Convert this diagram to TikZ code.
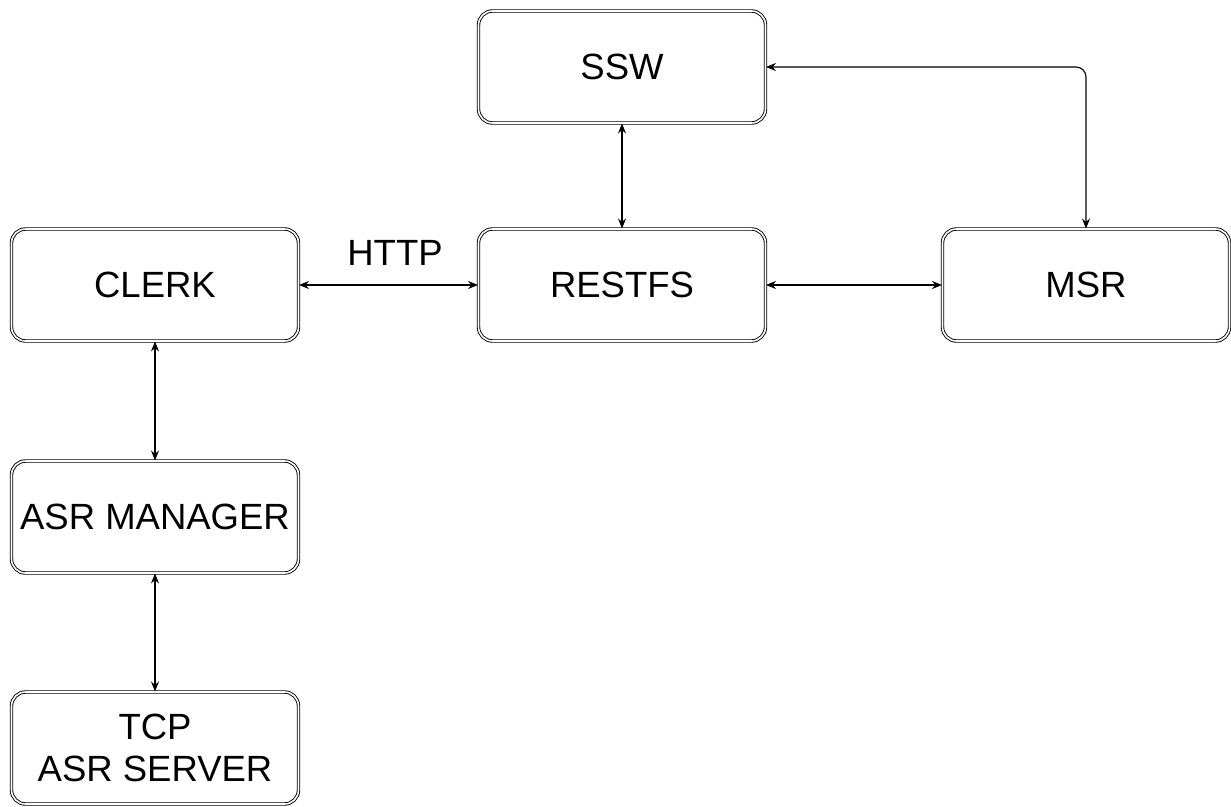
\documentclass[tikz,border=0pt]{standalone}
\usepackage{fontspec}
\setmainfont{Liberation Sans}
\usetikzlibrary{arrows.meta}
\tikzset{
  blk/.style={draw=black, double=white, double distance=1.6pt, line width=0.9pt,
    rounded corners=14pt, minimum width=287pt, minimum height=112pt,
    inner sep=0pt, align=center, font=\fontsize{36.5}{42}\selectfont},
  conn/.style={line width=1.1pt, {Stealth[length=10pt,width=8pt]}-{Stealth[length=10pt,width=8pt]}},
  lbl/.style={font=\fontsize{36.5}{42}\selectfont}
}
\begin{document}
\begin{tikzpicture}[x=1pt,y=-1pt]
\useasboundingbox (0,0) rectangle (1231,806);
\node[blk] (ssw) at (622,67) {SSW};
\node[blk] (clerk) at (155,285) {CLERK};
\node[blk] (restfs) at (622,285) {RESTFS};
\node[blk] (msr) at (1086,285) {MSR};
\node[blk] (asr) at (155,517) {ASR MANAGER};
\node[blk] (tcp) at (155,748) {TCP\\ASR SERVER};
\draw[conn] (clerk) -- (restfs);
\node[lbl] (http) at (395,253) {HTTP};
\draw[conn] (restfs) -- (msr);
\draw[conn] (ssw) -- (restfs);
\draw[conn] (clerk) -- (asr);
\draw[conn] (asr) -- (tcp);
\draw[conn, rounded corners=10pt] (ssw.east) -| (msr.north);
\end{tikzpicture}
\end{document}
